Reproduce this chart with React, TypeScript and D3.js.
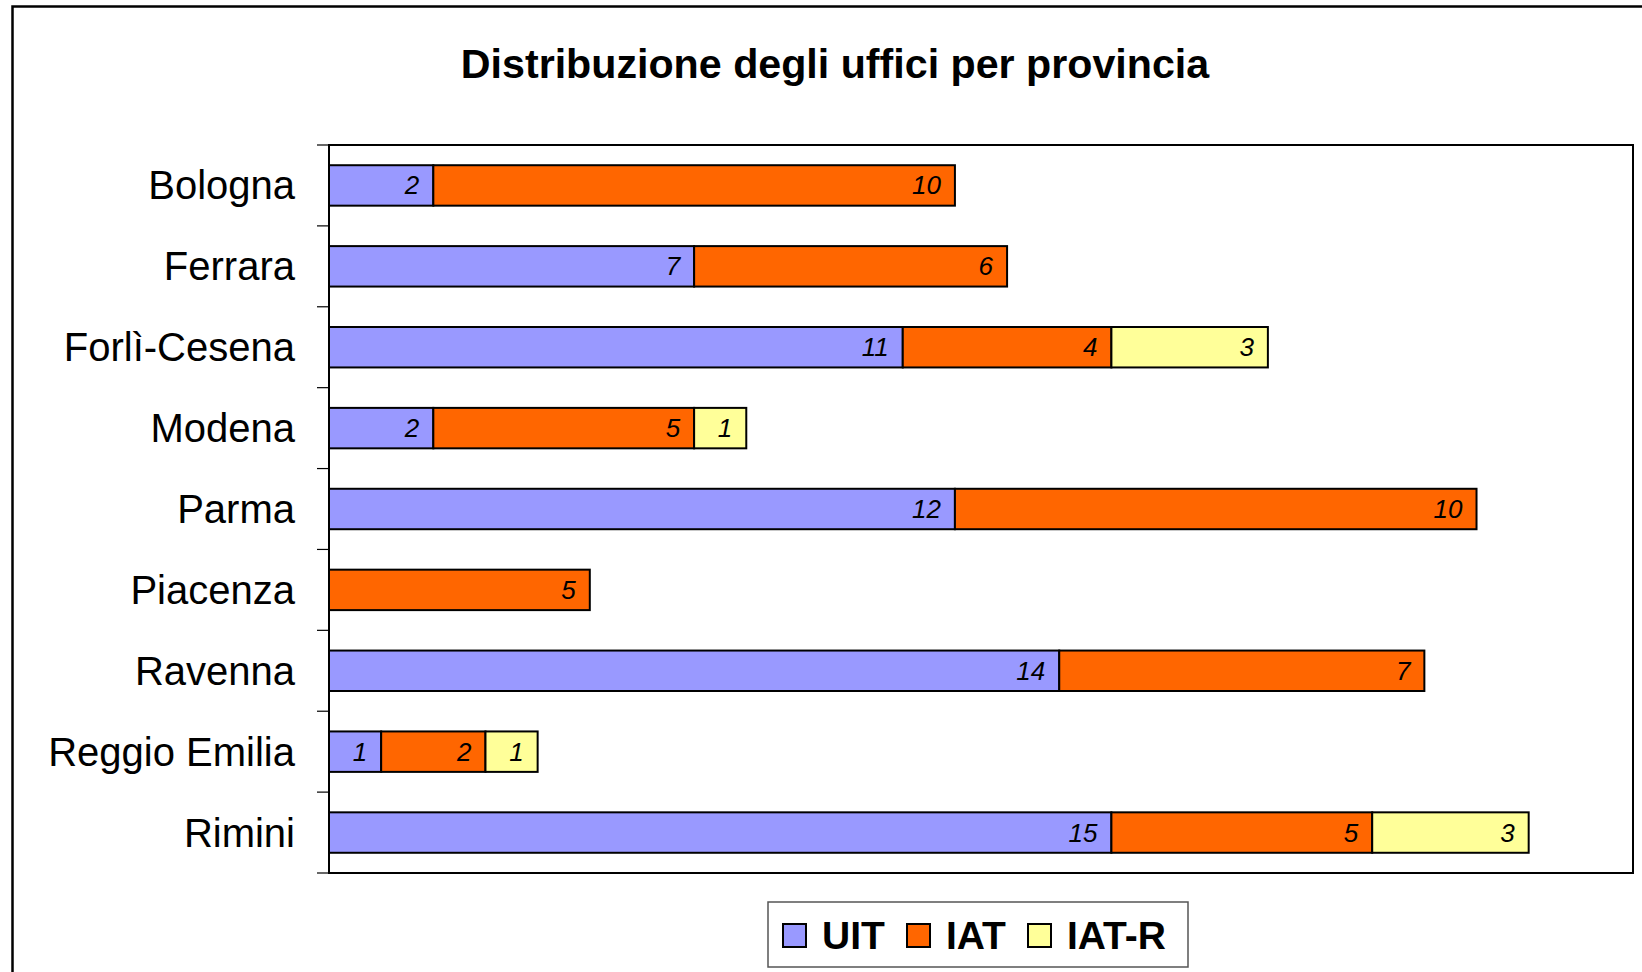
import React from 'react';
import * as d3 from 'd3';

const categories = ['Bologna', 'Ferrara', 'Forlì-Cesena', 'Modena', 'Parma', 'Piacenza', 'Ravenna', 'Reggio Emilia', 'Rimini'];
const seriesNames = ['UIT', 'IAT', 'IAT-R'];
const uitValues = [2, 7, 11, 2, 12, 0, 14, 1, 15];
const iatValues = [10, 6, 4, 5, 10, 5, 7, 2, 5];
const iatRValues = [0, 0, 3, 1, 0, 0, 0, 1, 3];
const seriesColors = ['#9999FF', '#FF6600', '#FFFF99'];

const W = 1642;
const H = 972;
const plot = { left: 329, top: 145, right: 1633, bottom: 873 };

const App: React.FC = () => {
  const rows = categories.map((c, i) => ({
    cat: c,
    UIT: uitValues[i],
    IAT: iatValues[i],
    'IAT-R': iatRValues[i],
  }));

  const stacked = d3.stack<any>().keys(seriesNames)(rows);

  const x = d3.scaleLinear().domain([0, 25]).range([plot.left, plot.right]);
  const y = d3.scaleBand<string>()
    .domain(categories)
    .range([plot.top, plot.bottom])
    .paddingInner(0.5)
    .paddingOuter(0.25);

  const step = y.step();
  // tick positions sit on band boundaries
  const tickYs = d3.range(categories.length + 1).map(i => plot.top + i * step);

  const legendItems = [
    { name: seriesNames[0], color: seriesColors[0], sw: 783, tx: 822 },
    { name: seriesNames[1], color: seriesColors[1], sw: 907, tx: 946 },
    { name: seriesNames[2], color: seriesColors[2], sw: 1028, tx: 1067 },
  ];

  return (
    <svg
      width={W}
      height={H}
      style={{ position: 'absolute', left: 0, top: 0, background: '#fff' }}
      fontFamily="'Liberation Sans', Arial, sans-serif"
    >
      <rect x={0} y={0} width={W} height={H} fill="#fff" />
      {/* outer chart frame */}
      <path d={`M12.5,${H + 5} L12.5,6.5 L${W + 5},6.5`} fill="none" stroke="#000" strokeWidth={2.5} />

      <text x={835} y={78} textAnchor="middle" fontSize={41.2} fontWeight="bold">
        Distribuzione degli uffici per provincia
      </text>

      {/* plot area */}
      <rect
        x={plot.left}
        y={plot.top}
        width={plot.right - plot.left}
        height={plot.bottom - plot.top}
        fill="#fff"
        stroke="#000"
        strokeWidth={2}
      />

      {tickYs.map((ty, i) => (
        <line key={'t' + i} x1={317} x2={plot.left} y1={ty} y2={ty} stroke="#000" strokeWidth={1.2} />
      ))}

      {categories.map(c => (
        <text
          key={'l' + c}
          x={295}
          y={(y(c) as number) + y.bandwidth() / 2 + 14}
          textAnchor="end"
          fontSize={40}
          fill="#000"
        >
          {c}
        </text>
      ))}

      {stacked.map((s, si) => (
        <g key={'s' + si}>
          {s.map((d, i) => {
            const v = d[1] - d[0];
            if (!v) return null;
            const by = y(categories[i]) as number;
            const x0 = x(d[0]);
            const x1 = x(d[1]);
            return (
              <g key={i}>
                <rect
                  x={x0}
                  y={by}
                  width={x1 - x0}
                  height={y.bandwidth()}
                  fill={seriesColors[si]}
                  stroke="#000"
                  strokeWidth={2}
                />
                <text
                  x={x1 - 14}
                  y={by + y.bandwidth() / 2 + 9}
                  textAnchor="end"
                  fontSize={26}
                  fontStyle="italic"
                  fill="#000"
                >
                  {v}
                </text>
              </g>
            );
          })}
        </g>
      ))}

      {/* legend */}
      <rect x={768} y={902} width={420} height={65} fill="#fff" stroke="#555" strokeWidth={1.5} />
      {legendItems.map(it => (
        <g key={it.name}>
          <rect x={it.sw} y={924} width={23} height={23} fill={it.color} stroke="#000" strokeWidth={2} />
          <text x={it.tx} y={949} fontSize={39} fontWeight="bold" fill="#000">
            {it.name}
          </text>
        </g>
      ))}
    </svg>
  );
};

export default App;
